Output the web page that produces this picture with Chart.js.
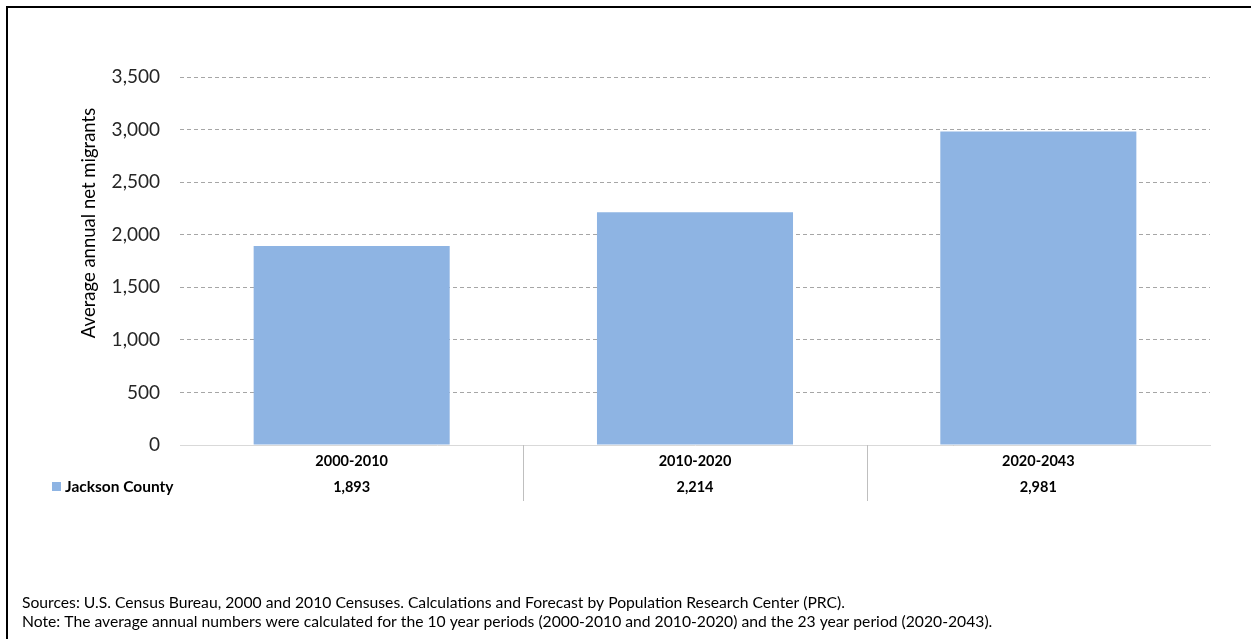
<!DOCTYPE html>
<html>
<head>
<meta charset="utf-8">
<script src="https://cdn.jsdelivr.net/npm/chart.js@4.4.1/dist/chart.umd.min.js"></script>
<style>
  html, body { margin: 0; padding: 0; background: #ffffff; }
  #wrap { position: relative; width: 1251px; height: 639px; }
  #frame { position: absolute; left: 6px; top: 6px; right: 0; bottom: 0;
           border-left: 2px solid #000; border-top: 2px solid #000; pointer-events: none; }
  canvas { display: block; }
</style>
</head>
<body>
<div id="wrap">
  <canvas id="chart" width="1251" height="639"></canvas>
  <div id="frame"></div>
</div>
<script>
// Average annual net migrants by period
const periods = ['2000-2010', '2010-2020', '2020-2043'];
const seriesName = 'Jackson County';
const netMigrants = [1893, 2214, 2981];
const yTicks = [0, 500, 1000, 1500, 2000, 2500, 3000, 3500];
const yTitle = 'Average annual net migrants';
const footnotes = [
  'Sources: U.S. Census Bureau, 2000 and 2010 Censuses. Calculations and Forecast by Population Research Center (PRC).',
  'Note: The average annual numbers were calculated for the 10 year periods (2000-2010 and 2010-2020) and the 23 year period (2020-2043).'
];

const FONT = 'Lato, "Open Sans", sans-serif';
const BAR_COLOR = '#8eb4e3';
const fmt = v => v.toLocaleString('en-US');

// Data table under the axis, rotated y title and footnotes
const tablePlugin = {
  id: 'dataTable',
  afterDraw(chart) {
    const { ctx, chartArea, scales } = chart;
    const x = scales.x;
    ctx.save();

    // vertical separators between categories
    ctx.strokeStyle = '#bfbfbf';
    ctx.lineWidth = 1;
    for (let i = 1; i < periods.length; i++) {
      const px = Math.round((x.getPixelForValue(i - 1) + x.getPixelForValue(i)) / 2) + 0.5;
      ctx.beginPath();
      ctx.moveTo(px, chartArea.bottom);
      ctx.lineTo(px, chartArea.bottom + 56);
      ctx.stroke();
    }

    // value row
    ctx.fillStyle = '#000';
    ctx.font = 'bold 14.5px ' + FONT;
    ctx.textAlign = 'center';
    ctx.textBaseline = 'middle';
    netMigrants.forEach((v, i) => {
      ctx.fillText(fmt(v), x.getPixelForValue(i), chartArea.bottom + 42);
    });

    // legend key for the row
    ctx.fillStyle = BAR_COLOR;
    ctx.fillRect(52, chartArea.bottom + 37, 9, 9);
    ctx.fillStyle = '#000';
    ctx.font = 'bold 15.5px ' + FONT;
    ctx.textAlign = 'left';
    ctx.fillText(seriesName, 65, chartArea.bottom + 42);

    // rotated axis title
    ctx.save();
    ctx.translate(89, 223);
    ctx.rotate(-Math.PI / 2);
    ctx.textAlign = 'center';
    ctx.textBaseline = 'middle';
    ctx.font = '18.5px ' + FONT;
    ctx.fillStyle = '#000';
    ctx.fillText(yTitle, 0, 0);
    ctx.restore();

    // footnotes
    ctx.font = '15.7px ' + FONT;
    ctx.fillStyle = '#000';
    ctx.textAlign = 'left';
    ctx.textBaseline = 'middle';
    ctx.fillText(footnotes[0], 22, 603);
    ctx.fillText(footnotes[1], 22, 622);

    ctx.restore();
  }
};

new Chart(document.getElementById('chart'), {
  type: 'bar',
  data: {
    labels: periods,
    datasets: [{
      label: seriesName,
      data: netMigrants,
      backgroundColor: BAR_COLOR,
      borderWidth: 0,
      barPercentage: 0.571,
      categoryPercentage: 1
    }]
  },
  options: {
    responsive: false,
    animation: false,
    devicePixelRatio: 1,
    layout: { padding: { top: 77, left: 0, right: 41, bottom: 134 } },
    plugins: { legend: { display: false }, tooltip: { enabled: false } },
    scales: {
      x: {
        grid: { display: false, drawTicks: false },
        border: { display: true, color: '#d9d9d9', width: 1 },
        ticks: {
          color: '#000',
          font: { family: FONT, size: 14.5, weight: 'bold' },
          padding: 8,
          maxRotation: 0
        },
        afterFit(scale) { scale.height = 60; }
      },
      y: {
        min: 0,
        max: 3500,
        afterBuildTicks(scale) { scale.ticks = yTicks.map(v => ({ value: v })); },
        grid: { color: '#a6a6a6', lineWidth: 1, drawTicks: false },
        border: { display: false, dash: [4, 3] },
        ticks: {
          color: '#262626',
          font: { family: FONT, size: 19 },
          padding: 20,
          callback: v => fmt(v)
        },
        afterFit(scale) { scale.width = 180; }
      }
    }
  },
  plugins: [tablePlugin]
});
</script>
</body>
</html>
